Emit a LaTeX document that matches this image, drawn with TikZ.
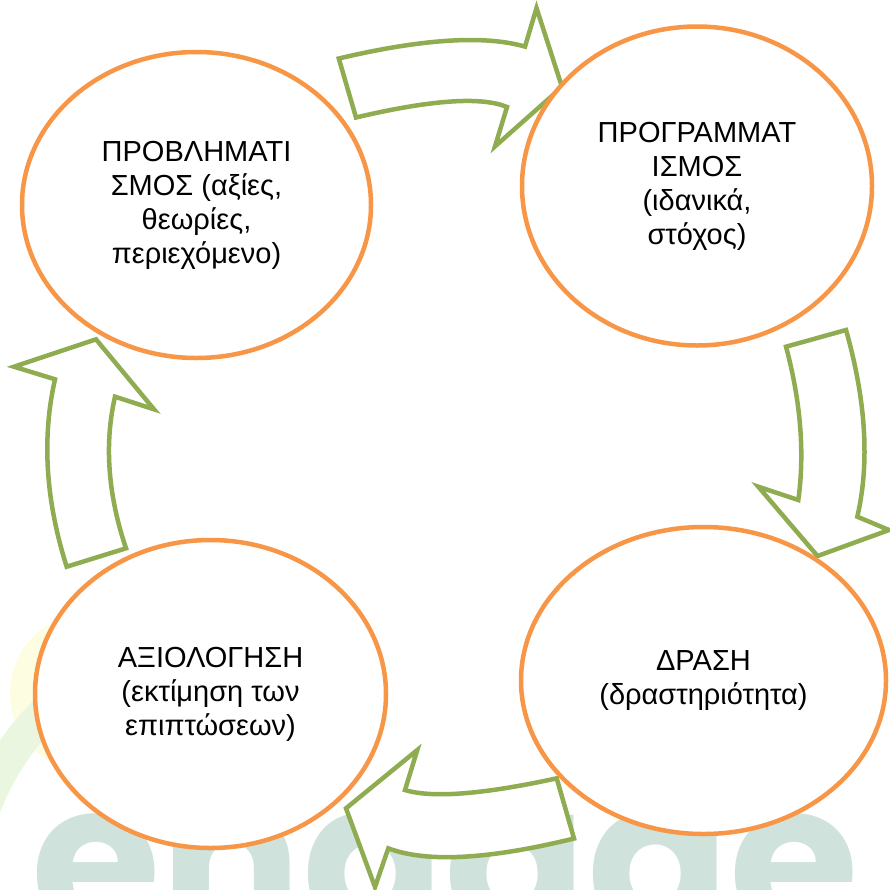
\documentclass[tikz,border=0pt]{standalone}
\usepackage{fontspec}
\setmainfont{Liberation Sans}
\newfontfamily\logofont{Poppins}
\usetikzlibrary{shapes.geometric}
\definecolor{ringorange}{RGB}{247,150,70}
\definecolor{arrowgreen}{RGB}{143,172,80}
\definecolor{logoteal}{RGB}{207,226,220}
\definecolor{logoyellow}{RGB}{253,253,226}
\definecolor{logogreen}{RGB}{234,246,224}
\begin{document}
\begin{tikzpicture}[x=1pt,y=-1pt,
    stage/.style={ellipse,draw=ringorange,line width=4.5pt,fill=white,inner sep=0pt,
      align=center,font=\fontsize{29}{34}\selectfont},
    cyclearrow/.style={draw=arrowgreen,line width=4.5pt,fill=white,line join=miter}]
    \useasboundingbox (0,0) rectangle (890,889);
    \clip (0,0) rectangle (890,889);
    \fill [logoyellow] (90,693) circle [radius=80];
    \draw [logogreen,line width=34pt] (230,900) ++(170:263) arc [start angle=170,end angle=275,radius=263];
    \node (logo) at (31,932) [anchor=base west,inner sep=0pt,text=logoteal,
      font=\logofont\bfseries\fontsize{210}{220}\selectfont] {engage};
    \draw [cyclearrow] (338.8,58.5) .. controls (422.3,38.8) and (484.3,34.9) .. (525,46.6) -- (536.5,8) -- (562,87)
      -- (495,146.4) -- (507,107) .. controls (481.3,96.3) and (431,99.8) .. (356,117.5) -- cycle;
    \draw [cyclearrow] (786,346.7) -- (846,330) .. controls (866,400.7) and (869.8,462.9) .. (857.3,516.7) -- (889,530)
      -- (817.5,556) -- (758.3,486.7) -- (798.3,500) .. controls (804.8,452.7) and (800.7,401.6) .. (786,346.7) -- cycle;
    \draw [cyclearrow] (556.7,778.3) -- (574,838.5) .. controls (488.3,859.5) and (426.4,862.8) .. (388.3,848.3) -- (375,887)
      -- (346,808.3) -- (417.3,750) -- (405,790) .. controls (432.1,798.3) and (482.7,794.4) .. (556.7,778.3) -- cycle;
    \draw [cyclearrow] (66.7,566.7) .. controls (45.6,500.4) and (41.7,438) .. (55,379.3) -- (14,366.7) -- (96,339.3)
      -- (154,409.3) -- (115,396.7) .. controls (104.2,444) and (107.9,494.5) .. (126,548.3) -- cycle;
    \node (problem) at (196.5,205) [stage,minimum width=349pt,minimum height=306pt]
      {ΠΡΟΒΛΗΜΑΤΙ\\ΣΜΟΣ (αξίες,\\θεωρίες,\\περιεχόμενο)};
    \node (plan) at (697,186) [stage,minimum width=350pt,minimum height=319pt]
      {ΠΡΟΓΡΑΜΜΑΤ\\ΙΣΜΟΣ\\(ιδανικά,\\στόχος)};
    \node (action) at (703.5,680.5) [stage,minimum width=365pt,minimum height=307pt]
      {ΔΡΑΣΗ\\(δραστηριότητα)};
    \node (review) at (210.5,694) [stage,minimum width=351pt,minimum height=308pt]
      {ΑΞΙΟΛΟΓΗΣΗ\\(εκτίμηση των\\επιπτώσεων)};
\end{tikzpicture}
\end{document}
